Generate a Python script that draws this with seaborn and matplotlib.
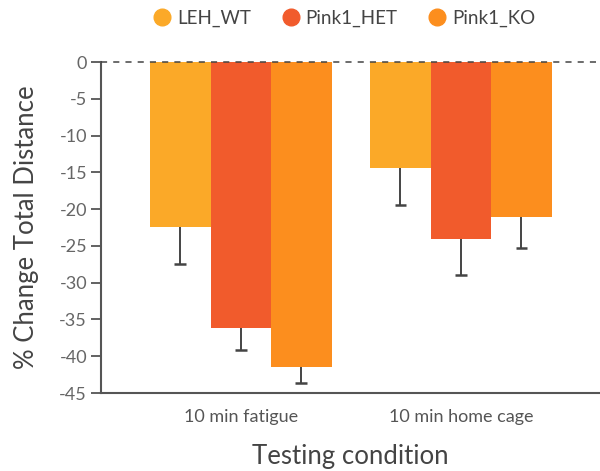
import matplotlib
matplotlib.use("Agg")
import matplotlib.pyplot as plt
import seaborn as sns
import pandas as pd
import numpy as np
from matplotlib.lines import Line2D

conditions = ["10 min fatigue", "10 min home cage"]
groups = ["LEH_WT", "Pink1_HET", "Pink1_KO"]
wt_vals = [-22.4, -14.4]
het_vals = [-36.1, -24.0]
ko_vals = [-41.5, -21.1]
wt_err = [5.0, 5.1]
het_err = [3.0, 4.9]
ko_err = [2.1, 4.2]
colors = ["#FBA928", "#F15B2C", "#FC8E1E"]
yticks = list(range(0, -50, -5))

sns.set_theme(style="white")
plt.rcParams['font.family'] = ['Lato', 'DejaVu Sans']

rows = []
for g, vals, errs in zip(groups, [wt_vals, het_vals, ko_vals], [wt_err, het_err, ko_err]):
    for c, v, e in zip(conditions, vals, errs):
        rows.append({"condition": c, "group": g, "value": v, "err": e})
df = pd.DataFrame(rows)

fig = plt.figure(figsize=(6, 4.71), dpi=100)
ax = fig.add_axes([101/600, 1-393/471, 499/600, (393-62)/471])

sns.barplot(data=df, x="condition", y="value", hue="group", order=conditions,
            hue_order=groups, palette=colors, saturation=1, width=0.825,
            errorbar=None, ax=ax, legend=False, linewidth=0, edgecolor="none")

# error bars (downward only)
cap_half = 0.027
for i, g in enumerate(groups):
    cont = ax.containers[i]
    sub = df[df.group == g].set_index("condition").loc[conditions]
    for j, patch in enumerate(cont.patches):
        xc = patch.get_x() + patch.get_width() / 2
        v = sub["value"].iloc[j]
        e = sub["err"].iloc[j]
        ax.vlines(xc, v - e, v, color="#444444", lw=1.4, zorder=3)
        ax.hlines(v - e, xc - cap_half, xc + cap_half, color="#444444", lw=1.8, zorder=3)

ax.axhline(0, color="#444444", lw=1.1, ls=(0, (4, 4)), zorder=4, clip_on=False)

ax.set_ylim(-45, 0)
ax.set_xlim(-0.636, 1.632)
ax.set_yticks(yticks)
ax.set_yticklabels([str(t) for t in yticks])
for s in ["top", "right"]:
    ax.spines[s].set_visible(False)
for s in ["left", "bottom"]:
    ax.spines[s].set_color("#555555")
    ax.spines[s].set_linewidth(1.5)
ax.tick_params(axis="y", which="both", left=True, length=7, width=1.3, color="#555555",
               labelsize=13, labelcolor="#666666", pad=3)
ax.tick_params(axis="x", bottom=False, labelsize=13, labelcolor="#555555", pad=5.5)

ax.set_ylabel("% Change Total Distance", fontsize=18.5, color="#444444", labelpad=15)
ax.set_xlabel("Testing condition", fontsize=18.5, color="#444444", labelpad=14)

handles = [Line2D([0], [0], marker="o", ls="none", markersize=12,
                  markerfacecolor=c, markeredgecolor=c) for c in colors]
leg = fig.legend(handles, groups, loc="center", bbox_to_anchor=(343/600, 1-18/471),
                 ncol=3, frameon=False, fontsize=13.5, handletextpad=0.2,
                 columnspacing=1.5, handlelength=1.2)
for t in leg.get_texts():
    t.set_color("#444444")

fig.savefig("out.png", dpi=100)
